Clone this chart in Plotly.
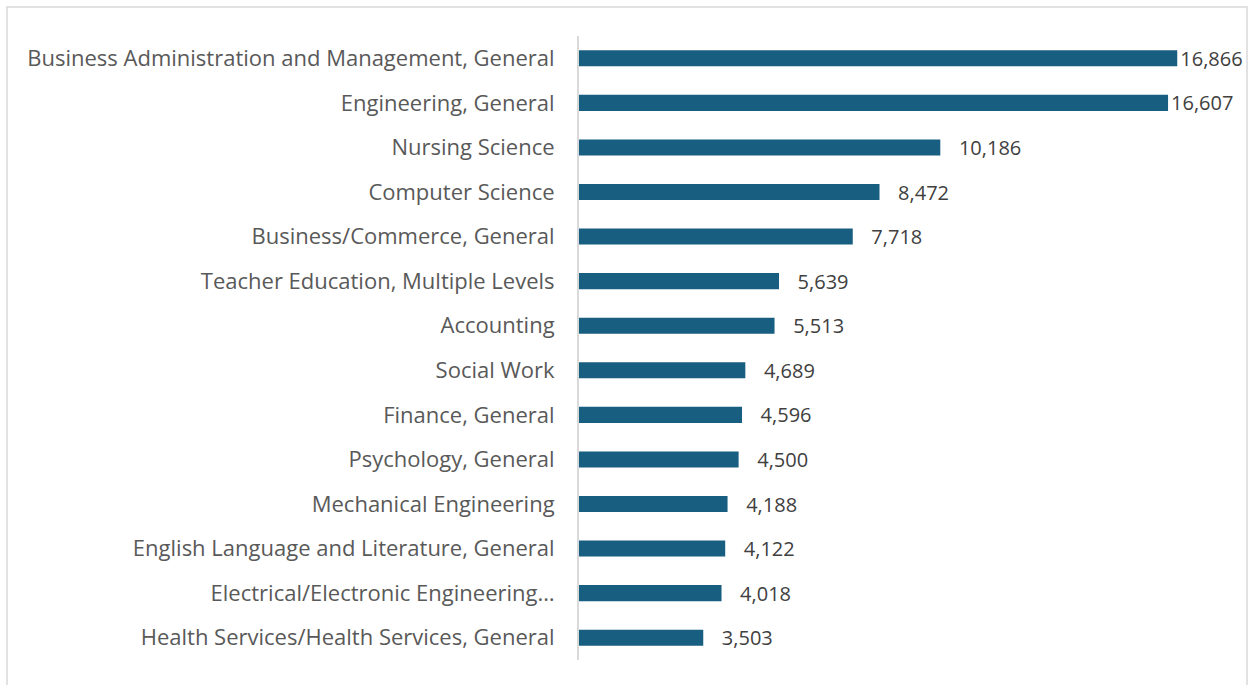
import plotly.graph_objects as go

categories = [
    "Business Administration and Management, General",
    "Engineering, General",
    "Nursing Science",
    "Computer Science",
    "Business/Commerce, General",
    "Teacher Education, Multiple Levels",
    "Accounting",
    "Social Work",
    "Finance, General",
    "Psychology, General",
    "Mechanical Engineering",
    "English Language and Literature, General",
    "Electrical/Electronic Engineering…",
    "Health Services/Health Services, General",
]
values = [16866, 16607, 10186, 8472, 7718, 5639, 5513, 4689, 4596, 4500, 4188, 4122, 4018, 3503]

W, H = 1250, 685
ml, mr, mt, mb = 579, 68, 36, 25
xmax = 17000

# labels near the chart's right edge are pulled back against the bar end (as Excel does)
labels = [f"{v:,}" if v > 0.95 * xmax else "   " + f"{v:,}" for v in values]

fig = go.Figure(
    go.Bar(
        y=categories,
        x=values,
        orientation="h",
        marker=dict(color="#185E80", line=dict(width=0)),
        text=labels,
        textposition="outside",
        constraintext="none",
        textfont=dict(family="Open Sans", size=20, color="#404040"),
        cliponaxis=False,
        width=0.36,
    )
)

pw = W - ml - mr
ph = H - mt - mb
fig.update_layout(
    width=W,
    height=H,
    margin=dict(l=ml, r=mr, t=mt, b=mb, pad=0),
    plot_bgcolor="white",
    paper_bgcolor="white",
    showlegend=False,
    xaxis=dict(range=[0, xmax], visible=False, fixedrange=True),
    yaxis=dict(
        autorange="reversed",
        categoryorder="array",
        categoryarray=categories,
        showgrid=False,
        showline=True,
        linecolor="#D9D9D9",
        linewidth=2,
        ticks="",
        tickfont=dict(family="Open Sans", size=22, color="#595959"),
        ticklabelstandoff=18,
        fixedrange=True,
    ),
    shapes=[
        dict(
            type="rect",
            xref="paper",
            yref="paper",
            x0=(7 - ml) / pw,
            x1=(1247 - ml) / pw,
            y0=(H - mb - 700) / ph,
            y1=(H - mb - 7) / ph,
            line=dict(color="#D9D9D9", width=1.5),
            fillcolor="rgba(0,0,0,0)",
            layer="below",
        )
    ],
)

fig.write_html(
    "out.html",
    config={"displayModeBar": False},
    post_script="document.body.style.margin='0';document.body.style.overflow='hidden';",
)
